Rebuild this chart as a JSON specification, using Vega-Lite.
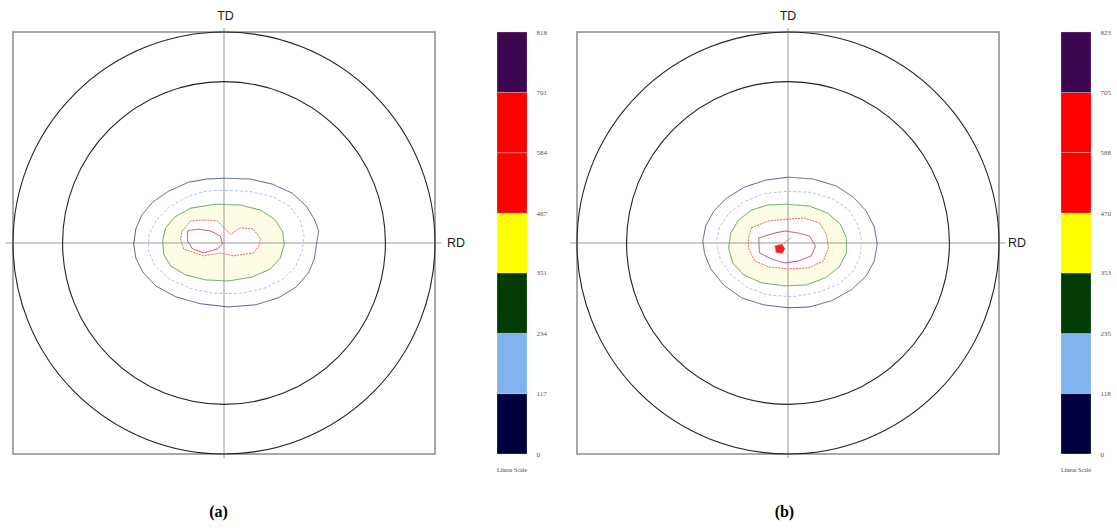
{
  "$schema": "https://vega.github.io/schema/vega-lite/v6.json",
  "background": "white",
  "padding": {"left": 5, "top": 10, "right": 0, "bottom": 0},
  "config": {"view": {"stroke": null}},
  "datasets": {
    "frame": [{"x": -100, "x2": 100, "y": -100, "y2": 100}],
    "circles": [{"d": 200, "x": 0, "y": 0}, {"d": 153, "x": 0, "y": 0}],
    "axesLines": [{"x": -103.3, "x2": 103, "y": 0, "y2": 0}, {"x": 0, "x2": 0, "y": -101.9, "y2": 101.9}],
    "ca": [
      {"c":1,"k":1,"i":0,"x":0.2,"y":30.7},{"c":1,"k":1,"i":1,"x":12.5,"y":30.3},{"c":1,"k":1,"i":2,"x":22.9,"y":27.9},{"c":1,"k":1,"i":3,"x":32.4,"y":23.6},{"c":1,"k":1,"i":4,"x":39.0,"y":17.5},{"c":1,"k":1,"i":5,"x":42.8,"y":11.3},{"c":1,"k":1,"i":6,"x":44.9,"y":5.7},{"c":1,"k":1,"i":7,"x":43.7,"y":-1.4},{"c":1,"k":1,"i":8,"x":42.8,"y":-7.6},{"c":1,"k":1,"i":9,"x":40.0,"y":-14.2},{"c":1,"k":1,"i":10,"x":34.3,"y":-20.8},{"c":1,"k":1,"i":11,"x":25.8,"y":-26.0},{"c":1,"k":1,"i":12,"x":14.9,"y":-29.3},{"c":1,"k":1,"i":13,"x":2.1,"y":-30.3},{"c":1,"k":1,"i":14,"x":-11.1,"y":-28.8},{"c":1,"k":1,"i":15,"x":-22.9,"y":-25.5},{"c":1,"k":1,"i":16,"x":-32.4,"y":-20.3},{"c":1,"k":1,"i":17,"x":-38.5,"y":-13.7},{"c":1,"k":1,"i":18,"x":-41.8,"y":-7.1},{"c":1,"k":1,"i":19,"x":-42.8,"y":-0.5},{"c":1,"k":1,"i":20,"x":-41.8,"y":6.6},{"c":1,"k":1,"i":21,"x":-39.0,"y":13.2},{"c":1,"k":1,"i":22,"x":-33.8,"y":19.4},{"c":1,"k":1,"i":23,"x":-26.2,"y":24.6},{"c":1,"k":1,"i":24,"x":-16.8,"y":28.8},{"c":1,"k":1,"i":25,"x":-8.3,"y":30.3},{"c":1,"k":1,"i":26,"x":0.2,"y":30.7},
      {"c":2,"k":2,"i":0,"x":-2,"y":25},{"c":2,"k":2,"i":1,"x":12,"y":24.5},{"c":2,"k":2,"i":2,"x":23,"y":22},{"c":2,"k":2,"i":3,"x":31,"y":17.5},{"c":2,"k":2,"i":4,"x":36,"y":11},{"c":2,"k":2,"i":5,"x":38,"y":3},{"c":2,"k":2,"i":6,"x":37,"y":-4},{"c":2,"k":2,"i":7,"x":34,"y":-11},{"c":2,"k":2,"i":8,"x":28,"y":-17},{"c":2,"k":2,"i":9,"x":19,"y":-21.5},{"c":2,"k":2,"i":10,"x":7,"y":-24},{"c":2,"k":2,"i":11,"x":-5,"y":-23.8},{"c":2,"k":2,"i":12,"x":-16,"y":-21.5},{"c":2,"k":2,"i":13,"x":-26,"y":-17},{"c":2,"k":2,"i":14,"x":-33,"y":-10.5},{"c":2,"k":2,"i":15,"x":-36,"y":-3},{"c":2,"k":2,"i":16,"x":-35.5,"y":4},{"c":2,"k":2,"i":17,"x":-32,"y":11},{"c":2,"k":2,"i":18,"x":-26,"y":17},{"c":2,"k":2,"i":19,"x":-17,"y":22},{"c":2,"k":2,"i":20,"x":-9,"y":24.5},{"c":2,"k":2,"i":21,"x":-2,"y":25},
      {"c":3,"k":3,"i":0,"x":-4.0,"y":18.4},{"c":3,"k":3,"i":1,"x":7.8,"y":18.0},{"c":3,"k":3,"i":2,"x":17.3,"y":15.6},{"c":3,"k":3,"i":3,"x":23.9,"y":11.3},{"c":3,"k":3,"i":4,"x":27.7,"y":5.7},{"c":3,"k":3,"i":5,"x":28.6,"y":-0.5},{"c":3,"k":3,"i":6,"x":26.7,"y":-7.1},{"c":3,"k":3,"i":7,"x":22.0,"y":-12.3},{"c":3,"k":3,"i":8,"x":13.5,"y":-16.1},{"c":3,"k":3,"i":9,"x":2.1,"y":-18.0},{"c":3,"k":3,"i":10,"x":-8.7,"y":-17.5},{"c":3,"k":3,"i":11,"x":-18.2,"y":-15.1},{"c":3,"k":3,"i":12,"x":-25.3,"y":-10.9},{"c":3,"k":3,"i":13,"x":-28.6,"y":-5.2},{"c":3,"k":3,"i":14,"x":-29.1,"y":0.9},{"c":3,"k":3,"i":15,"x":-27.7,"y":7.1},{"c":3,"k":3,"i":16,"x":-23.4,"y":12.3},{"c":3,"k":3,"i":17,"x":-15.8,"y":16.5},{"c":3,"k":3,"i":18,"x":-4.0,"y":18.4},
      {"c":4,"k":5,"i":0,"x":-19.8,"y":5.7},{"c":4,"k":5,"i":1,"x":-15.8,"y":10.4},{"c":4,"k":5,"i":2,"x":-9.7,"y":10.9},{"c":4,"k":5,"i":3,"x":-3.2,"y":10.4},{"c":4,"k":5,"i":4,"x":3.1,"y":4.1},{"c":4,"k":5,"i":5,"x":7.8,"y":7.2},{"c":4,"k":5,"i":6,"x":13.9,"y":6.6},{"c":4,"k":5,"i":7,"x":17.3,"y":1.9},{"c":4,"k":5,"i":8,"x":16.3,"y":-1.9},{"c":4,"k":5,"i":9,"x":13.9,"y":-4.7},{"c":4,"k":5,"i":10,"x":4.5,"y":-6.1},{"c":4,"k":5,"i":11,"x":-1.7,"y":-4.7},{"c":4,"k":5,"i":12,"x":-9.7,"y":-6.1},{"c":4,"k":5,"i":13,"x":-19.1,"y":-2.8},{"c":4,"k":5,"i":14,"x":-20.6,"y":1.9},{"c":4,"k":5,"i":15,"x":-19.8,"y":5.7},
      {"c":5,"k":6,"i":0,"x":-17.3,"y":5.7},{"c":5,"k":6,"i":1,"x":-12.1,"y":6.6},{"c":5,"k":6,"i":2,"x":-6.4,"y":5.7},{"c":5,"k":6,"i":3,"x":-1.7,"y":3.3},{"c":5,"k":6,"i":4,"x":-0.7,"y":-0.5},{"c":5,"k":6,"i":5,"x":-3.1,"y":-2.8},{"c":5,"k":6,"i":6,"x":-9.7,"y":-4.7},{"c":5,"k":6,"i":7,"x":-14.9,"y":-2.8},{"c":5,"k":6,"i":8,"x":-17.3,"y":0.9},{"c":5,"k":6,"i":9,"x":-17.3,"y":5.7}
    ],
    "cb": [
      {"c":1,"k":1,"i":0,"x":0.2,"y":31.2},{"c":1,"k":1,"i":1,"x":12.1,"y":30.3},{"c":1,"k":1,"i":2,"x":22.9,"y":27.0},{"c":1,"k":1,"i":3,"x":31.0,"y":21.7},{"c":1,"k":1,"i":4,"x":37.1,"y":15.1},{"c":1,"k":1,"i":5,"x":40.9,"y":7.6},{"c":1,"k":1,"i":6,"x":42.3,"y":-0.5},{"c":1,"k":1,"i":7,"x":40.9,"y":-8.5},{"c":1,"k":1,"i":8,"x":37.1,"y":-15.6},{"c":1,"k":1,"i":9,"x":30.0,"y":-22.2},{"c":1,"k":1,"i":10,"x":20.6,"y":-27.4},{"c":1,"k":1,"i":11,"x":10.2,"y":-30.3},{"c":1,"k":1,"i":12,"x":0.2,"y":-30.7},{"c":1,"k":1,"i":13,"x":-11.6,"y":-29.3},{"c":1,"k":1,"i":14,"x":-22.0,"y":-26.0},{"c":1,"k":1,"i":15,"x":-30.5,"y":-19.9},{"c":1,"k":1,"i":16,"x":-36.6,"y":-12.3},{"c":1,"k":1,"i":17,"x":-39.5,"y":-5.2},{"c":1,"k":1,"i":18,"x":-40.4,"y":0.9},{"c":1,"k":1,"i":19,"x":-39.0,"y":8.0},{"c":1,"k":1,"i":20,"x":-35.2,"y":15.1},{"c":1,"k":1,"i":21,"x":-29.1,"y":21.3},{"c":1,"k":1,"i":22,"x":-20.6,"y":26.5},{"c":1,"k":1,"i":23,"x":-10.6,"y":29.8},{"c":1,"k":1,"i":24,"x":0.2,"y":31.2},
      {"c":2,"k":2,"i":0,"x":0,"y":24.5},{"c":2,"k":2,"i":1,"x":11,"y":24},{"c":2,"k":2,"i":2,"x":21,"y":21},{"c":2,"k":2,"i":3,"x":28.5,"y":16},{"c":2,"k":2,"i":4,"x":33,"y":9},{"c":2,"k":2,"i":5,"x":35,"y":1},{"c":2,"k":2,"i":6,"x":34,"y":-7},{"c":2,"k":2,"i":7,"x":30.5,"y":-14},{"c":2,"k":2,"i":8,"x":24,"y":-19.5},{"c":2,"k":2,"i":9,"x":14,"y":-23.5},{"c":2,"k":2,"i":10,"x":2,"y":-25.5},{"c":2,"k":2,"i":11,"x":-10,"y":-24.5},{"c":2,"k":2,"i":12,"x":-19.5,"y":-21},{"c":2,"k":2,"i":13,"x":-27,"y":-15},{"c":2,"k":2,"i":14,"x":-32,"y":-8},{"c":2,"k":2,"i":15,"x":-34,"y":0},{"c":2,"k":2,"i":16,"x":-32.5,"y":7.5},{"c":2,"k":2,"i":17,"x":-28,"y":14},{"c":2,"k":2,"i":18,"x":-21,"y":19.5},{"c":2,"k":2,"i":19,"x":-11,"y":23.5},{"c":2,"k":2,"i":20,"x":0,"y":24.5},
      {"c":3,"k":3,"i":0,"x":-0.7,"y":18.4},{"c":3,"k":3,"i":1,"x":10.2,"y":17.5},{"c":3,"k":3,"i":2,"x":18.7,"y":14.2},{"c":3,"k":3,"i":3,"x":24.8,"y":9.0},{"c":3,"k":3,"i":4,"x":27.7,"y":2.4},{"c":3,"k":3,"i":5,"x":27.7,"y":-4.7},{"c":3,"k":3,"i":6,"x":24.3,"y":-11.3},{"c":3,"k":3,"i":7,"x":17.7,"y":-16.5},{"c":3,"k":3,"i":8,"x":8.7,"y":-19.9},{"c":3,"k":3,"i":9,"x":-1.7,"y":-20.3},{"c":3,"k":3,"i":10,"x":-12.5,"y":-18.9},{"c":3,"k":3,"i":11,"x":-21.0,"y":-15.1},{"c":3,"k":3,"i":12,"x":-26.2,"y":-9.5},{"c":3,"k":3,"i":13,"x":-28.1,"y":-2.4},{"c":3,"k":3,"i":14,"x":-27.2,"y":4.7},{"c":3,"k":3,"i":15,"x":-23.4,"y":10.9},{"c":3,"k":3,"i":16,"x":-17.3,"y":15.6},{"c":3,"k":3,"i":17,"x":-9.7,"y":18.0},{"c":3,"k":3,"i":18,"x":-0.7,"y":18.4},
      {"c":4,"k":5,"i":0,"x":-17.3,"y":7.2},{"c":4,"k":5,"i":1,"x":-9.4,"y":10.4},{"c":4,"k":5,"i":2,"x":0.1,"y":11.3},{"c":4,"k":5,"i":3,"x":7.8,"y":11.8},{"c":4,"k":5,"i":4,"x":14.9,"y":9.5},{"c":4,"k":5,"i":5,"x":18.2,"y":4.3},{"c":4,"k":5,"i":6,"x":19.1,"y":-2.4},{"c":4,"k":5,"i":7,"x":16.8,"y":-8.5},{"c":4,"k":5,"i":8,"x":9.7,"y":-11.8},{"c":4,"k":5,"i":9,"x":0.2,"y":-12.3},{"c":4,"k":5,"i":10,"x":-9.2,"y":-11.3},{"c":4,"k":5,"i":11,"x":-15.8,"y":-8.5},{"c":4,"k":5,"i":12,"x":-18.7,"y":-2.4},{"c":4,"k":5,"i":13,"x":-18.7,"y":2.4},{"c":4,"k":5,"i":14,"x":-17.3,"y":7.2},
      {"c":5,"k":6,"i":0,"x":-13.9,"y":2.4},{"c":5,"k":6,"i":1,"x":-7.8,"y":4.3},{"c":5,"k":6,"i":2,"x":-1.7,"y":5.7},{"c":5,"k":6,"i":3,"x":5.0,"y":4.7},{"c":5,"k":6,"i":4,"x":10.2,"y":3.3},{"c":5,"k":6,"i":5,"x":13.0,"y":-1.4},{"c":5,"k":6,"i":6,"x":11.1,"y":-6.1},{"c":5,"k":6,"i":7,"x":5.0,"y":-8.5},{"c":5,"k":6,"i":8,"x":-1.7,"y":-9.5},{"c":5,"k":6,"i":9,"x":-7.8,"y":-7.6},{"c":5,"k":6,"i":10,"x":-13.5,"y":-4.7},{"c":5,"k":6,"i":11,"x":-13.9,"y":2.4},
      {"c":6,"k":5,"i":0,"x":-6.2,"y":-1.4},{"c":6,"k":5,"i":1,"x":-3.0,"y":-0.6},{"c":6,"k":5,"i":2,"x":-1.4,"y":-2.6},{"c":6,"k":5,"i":3,"x":-2.6,"y":-4.8},{"c":6,"k":5,"i":4,"x":-5.6,"y":-4.6},{"c":6,"k":5,"i":5,"x":-6.2,"y":-1.4},
      {"c":7,"k":5,"i":0,"x":-3.0,"y":-1.0},{"c":7,"k":5,"i":1,"x":1.7,"y":2.8}
    ],
    "bandsA": [
      {"band":1,"lo":0,"hi":117},{"band":2,"lo":117,"hi":234},{"band":3,"lo":234,"hi":351},{"band":4,"lo":351,"hi":467},{"band":5,"lo":467,"hi":584},{"band":6,"lo":584,"hi":701},{"band":7,"lo":701,"hi":818}
    ],
    "bandsB": [
      {"band":1,"lo":0,"hi":118},{"band":2,"lo":118,"hi":235},{"band":3,"lo":235,"hi":353},{"band":4,"lo":353,"hi":470},{"band":5,"lo":470,"hi":588},{"band":6,"lo":588,"hi":705},{"band":7,"lo":705,"hi":823}
    ]
  },
  "bounds": "flush",
  "spacing": 50,
  "resolve": {"scale": {"x": "independent", "y": "independent", "color": "independent", "strokeDash": "independent", "size": "independent"}},
  "hconcat": [
    {
      "width": 434,
      "height": 422,
      "layer": [
        {
          "data": {"name": "frame"},
          "mark": {"type": "rect", "fill": null, "stroke": "#8c8c8c", "strokeWidth": 1.5},
          "encoding": {
            "x": {"field": "x", "type": "quantitative", "scale": {"domain": [-100, 105.687], "nice": false}, "axis": null},
            "x2": {"field": "x2"},
            "y": {"field": "y", "type": "quantitative", "scale": {"domain": [-100, 100], "nice": false}, "axis": null},
            "y2": {"field": "y2"}
          }
        },
        {
          "data": {"name": "ca"},
          "transform": [{"filter": "datum.c == 3"}],
          "mark": {"type": "line", "fill": "#fdfce4", "stroke": null},
          "encoding": {
            "x": {"field": "x", "type": "quantitative"},
            "y": {"field": "y", "type": "quantitative"},
            "order": {"field": "i"}
          }
        },
        {
          "data": {"name": "ca"},
          "transform": [{"filter": "datum.c == 4"}],
          "mark": {"type": "line", "fill": "#ffffff", "stroke": null},
          "encoding": {
            "x": {"field": "x", "type": "quantitative"},
            "y": {"field": "y", "type": "quantitative"},
            "order": {"field": "i"}
          }
        },
        {
          "data": {"name": "axesLines"},
          "mark": {"type": "rule", "color": "#9a9a9a", "strokeWidth": 1},
          "encoding": {
            "x": {"field": "x", "type": "quantitative"},
            "x2": {"field": "x2"},
            "y": {"field": "y", "type": "quantitative"},
            "y2": {"field": "y2"}
          }
        },
        {
          "data": {"name": "circles"},
          "mark": {"type": "point", "shape": "circle", "filled": false, "stroke": "#222222", "strokeWidth": 1.1, "opacity": 1},
          "encoding": {
            "x": {"field": "x", "type": "quantitative"},
            "y": {"field": "y", "type": "quantitative"},
            "size": {"field": "d", "type": "quantitative", "scale": {"type": "pow", "exponent": 2, "domain": [0, 200], "range": [0, 178084]}, "legend": null}
          }
        },
        {
          "data": {"name": "ca"},
          "mark": {"type": "line", "strokeWidth": 1},
          "encoding": {
            "x": {"field": "x", "type": "quantitative"},
            "y": {"field": "y", "type": "quantitative"},
            "order": {"field": "i"},
            "detail": {"field": "c"},
            "color": {"field": "k", "type": "ordinal", "scale": {"domain": [1, 2, 3, 5, 6], "range": ["#55578f", "#a8c8ee", "#5aa05a", "#ef6464", "#c5407a"]}, "legend": null},
            "strokeDash": {"field": "k", "type": "ordinal", "scale": {"domain": [1, 2, 3, 5, 6], "range": [[1, 0], [3, 2], [1, 0], [2, 1], [1, 0]]}, "legend": null}
          }
        },
        {
          "data": {"values": [{"t": "TD", "x": 0.7, "y": 107.5}, {"t": "RD", "x": 110, "y": 0}]},
          "mark": {"type": "text", "font": "Liberation Sans", "fontSize": 12.5, "color": "#222222", "baseline": "middle", "align": "center"},
          "encoding": {
            "x": {"field": "x", "type": "quantitative"},
            "y": {"field": "y", "type": "quantitative"},
            "text": {"field": "t"}
          }
        },
        {
          "data": {"values": [{"t": "(a)", "x": -2.6, "y": -127.7}]},
          "mark": {"type": "text", "font": "Liberation Serif", "fontSize": 16, "fontWeight": "bold", "color": "#000000", "baseline": "middle", "align": "center"},
          "encoding": {
            "x": {"field": "x", "type": "quantitative"},
            "y": {"field": "y", "type": "quantitative"},
            "text": {"field": "t"}
          }
        }
      ]
    },
    {
      "width": 30,
      "height": 422,
      "data": {"name": "bandsA"},
      "title": {"text": "Linear Scale", "orient": "bottom", "font": "Liberation Serif", "fontSize": 6, "fontWeight": "normal", "color": "#444444", "offset": 10},
      "mark": {"type": "rect", "stroke": "#ffffff", "strokeWidth": 0.4, "strokeOpacity": 0.6},
      "encoding": {
        "y": {"field": "lo", "type": "quantitative", "scale": {"domain": [0, 818], "nice": false},
          "axis": {"orient": "right", "values": [0, 117, 234, 351, 467, 584, 701, 818], "ticks": false, "domain": false, "grid": false, "title": null, "labelFont": "Liberation Serif", "labelFontSize": 7, "labelColor": "#555555", "labelPadding": 9, "labelFlush": false}},
        "y2": {"field": "hi"},
        "color": {"field": "band", "type": "ordinal", "scale": {"domain": [1, 2, 3, 4, 5, 6, 7], "range": ["#00003f", "#80b3f0", "#023c02", "#ffff00", "#ff0000", "#ff0000", "#3d0650"]}, "legend": null}
      }
    },
    {
      "width": 434,
      "height": 422,
      "layer": [
        {
          "data": {"name": "frame"},
          "mark": {"type": "rect", "fill": null, "stroke": "#8c8c8c", "strokeWidth": 1.5},
          "encoding": {
            "x": {"field": "x", "type": "quantitative", "scale": {"domain": [-100, 105.687], "nice": false}, "axis": null},
            "x2": {"field": "x2"},
            "y": {"field": "y", "type": "quantitative", "scale": {"domain": [-100, 100], "nice": false}, "axis": null},
            "y2": {"field": "y2"}
          }
        },
        {
          "data": {"name": "cb"},
          "transform": [{"filter": "datum.c == 3"}],
          "mark": {"type": "line", "fill": "#fdfce4", "stroke": null},
          "encoding": {
            "x": {"field": "x", "type": "quantitative"},
            "y": {"field": "y", "type": "quantitative"},
            "order": {"field": "i"}
          }
        },
        {
          "data": {"name": "cb"},
          "transform": [{"filter": "datum.c == 4"}],
          "mark": {"type": "line", "fill": "#ffffff", "stroke": null},
          "encoding": {
            "x": {"field": "x", "type": "quantitative"},
            "y": {"field": "y", "type": "quantitative"},
            "order": {"field": "i"}
          }
        },
        {
          "data": {"name": "axesLines"},
          "mark": {"type": "rule", "color": "#9a9a9a", "strokeWidth": 1},
          "encoding": {
            "x": {"field": "x", "type": "quantitative"},
            "x2": {"field": "x2"},
            "y": {"field": "y", "type": "quantitative"},
            "y2": {"field": "y2"}
          }
        },
        {
          "data": {"name": "circles"},
          "mark": {"type": "point", "shape": "circle", "filled": false, "stroke": "#222222", "strokeWidth": 1.1, "opacity": 1},
          "encoding": {
            "x": {"field": "x", "type": "quantitative"},
            "y": {"field": "y", "type": "quantitative"},
            "size": {"field": "d", "type": "quantitative", "scale": {"type": "pow", "exponent": 2, "domain": [0, 200], "range": [0, 178084]}, "legend": null}
          }
        },
        {
          "data": {"name": "cb"},
          "transform": [{"filter": "datum.c == 6"}],
          "mark": {"type": "line", "fill": "#ee2020", "stroke": null},
          "encoding": {
            "x": {"field": "x", "type": "quantitative"},
            "y": {"field": "y", "type": "quantitative"},
            "order": {"field": "i"}
          }
        },
        {
          "data": {"name": "cb"},
          "mark": {"type": "line", "strokeWidth": 1},
          "encoding": {
            "x": {"field": "x", "type": "quantitative"},
            "y": {"field": "y", "type": "quantitative"},
            "order": {"field": "i"},
            "detail": {"field": "c"},
            "color": {"field": "k", "type": "ordinal", "scale": {"domain": [1, 2, 3, 5, 6], "range": ["#55578f", "#a8c8ee", "#5aa05a", "#ef6464", "#c5407a"]}, "legend": null},
            "strokeDash": {"field": "k", "type": "ordinal", "scale": {"domain": [1, 2, 3, 5, 6], "range": [[1, 0], [3, 2], [1, 0], [2, 1], [1, 0]]}, "legend": null}
          }
        },
        {
          "data": {"values": [{"t": "TD", "x": 0, "y": 107.5}, {"t": "RD", "x": 108.5, "y": 0}]},
          "mark": {"type": "text", "font": "Liberation Sans", "fontSize": 12.5, "color": "#222222", "baseline": "middle", "align": "center"},
          "encoding": {
            "x": {"field": "x", "type": "quantitative"},
            "y": {"field": "y", "type": "quantitative"},
            "text": {"field": "t"}
          }
        },
        {
          "data": {"values": [{"t": "(b)", "x": -1.7, "y": -127.7}]},
          "mark": {"type": "text", "font": "Liberation Serif", "fontSize": 16, "fontWeight": "bold", "color": "#000000", "baseline": "middle", "align": "center"},
          "encoding": {
            "x": {"field": "x", "type": "quantitative"},
            "y": {"field": "y", "type": "quantitative"},
            "text": {"field": "t"}
          }
        }
      ]
    },
    {
      "width": 30,
      "height": 422,
      "data": {"name": "bandsB"},
      "title": {"text": "Linear Scale", "orient": "bottom", "font": "Liberation Serif", "fontSize": 6, "fontWeight": "normal", "color": "#444444", "offset": 10},
      "mark": {"type": "rect", "stroke": "#ffffff", "strokeWidth": 0.4, "strokeOpacity": 0.6},
      "encoding": {
        "y": {"field": "lo", "type": "quantitative", "scale": {"domain": [0, 823], "nice": false},
          "axis": {"orient": "right", "values": [0, 118, 235, 353, 470, 588, 705, 823], "ticks": false, "domain": false, "grid": false, "title": null, "labelFont": "Liberation Serif", "labelFontSize": 7, "labelColor": "#555555", "labelPadding": 9, "labelFlush": false}},
        "y2": {"field": "hi"},
        "color": {"field": "band", "type": "ordinal", "scale": {"domain": [1, 2, 3, 4, 5, 6, 7], "range": ["#00003f", "#80b3f0", "#023c02", "#ffff00", "#ff0000", "#ff0000", "#3d0650"]}, "legend": null}
      }
    }
  ]
}
